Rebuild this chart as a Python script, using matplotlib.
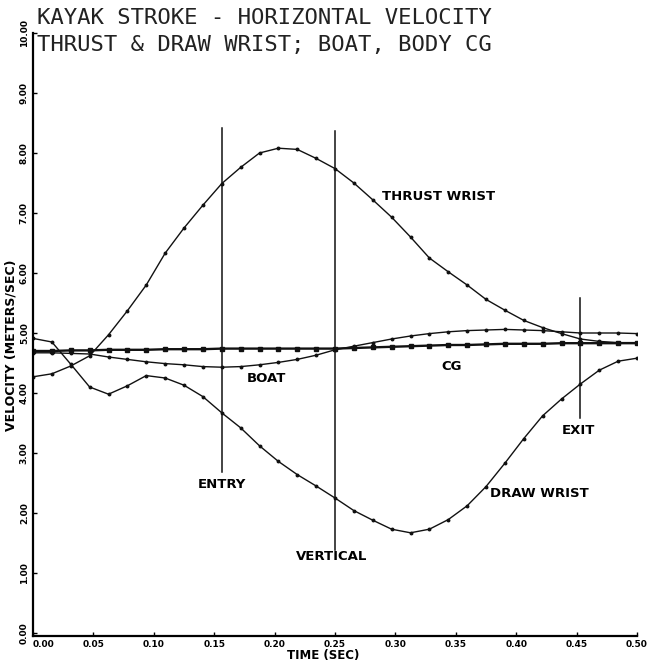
import matplotlib
matplotlib.use("Agg")
import matplotlib.pyplot as plt
import numpy as np

# tiempo: cuadros de pelicula a 64 por segundo
t = np.arange(33) / 64.0

thrust_wrist = [4.27, 4.32, 4.45, 4.62, 4.97, 5.37, 5.80, 6.33, 6.75, 7.13, 7.49,
                7.76, 8.00, 8.08, 8.06, 7.91, 7.74, 7.50, 7.22, 6.93, 6.60, 6.25,
                6.02, 5.80, 5.56, 5.38, 5.21, 5.09, 4.99, 4.90, 4.86, 4.84, 4.84]

draw_wrist = [4.91, 4.85, 4.48, 4.10, 3.98, 4.12, 4.29, 4.25, 4.13, 3.94, 3.67,
              3.42, 3.12, 2.86, 2.64, 2.45, 2.25, 2.04, 1.88, 1.73, 1.67, 1.73,
              1.89, 2.12, 2.44, 2.83, 3.24, 3.62, 3.90, 4.15, 4.38, 4.53, 4.58]

boat = [4.67, 4.67, 4.66, 4.65, 4.60, 4.56, 4.52, 4.49, 4.47, 4.44, 4.43,
        4.44, 4.47, 4.51, 4.56, 4.63, 4.72, 4.78, 4.84, 4.90, 4.95, 4.99,
        5.02, 5.04, 5.05, 5.06, 5.05, 5.04, 5.02, 5.00, 5.00, 5.00, 4.99]

body_cg = [4.70, 4.70, 4.71, 4.71, 4.72, 4.72, 4.72, 4.73, 4.73, 4.73, 4.74,
           4.74, 4.74, 4.74, 4.74, 4.74, 4.74, 4.75, 4.76, 4.77, 4.78, 4.79,
           4.80, 4.80, 4.81, 4.82, 4.82, 4.82, 4.83, 4.83, 4.83, 4.83, 4.83]

# lineas verticales de las fases (entry, vertical, exit)
fases_t = [0.1563, 0.25, 0.4531]
fases_bajo = [2.69, 1.38, 3.58]
fases_alto = [8.42, 8.36, 5.58]

xticks = [0.0, 0.05, 0.10, 0.15, 0.20, 0.25, 0.30, 0.35, 0.40, 0.45, 0.50]
yticks = [0, 1, 2, 3, 4, 5, 6, 7, 8, 9, 10]

fig = plt.figure(figsize=(6.52, 6.62), dpi=100)
ax = fig.add_axes([33/652, 1 - 636/662, 604/652, 603/662])

ax.plot(t, thrust_wrist, color="#111111", lw=1.0, marker="o", ms=1.8)
ax.plot(t, draw_wrist, color="#111111", lw=1.0, marker="o", ms=1.8)
ax.plot(t, boat, color="#111111", lw=1.0, marker="o", ms=1.8)
ax.plot(t, body_cg, color="#111111", lw=1.7, marker="s", ms=2.4)

for x, y0, y1 in zip(fases_t, fases_bajo, fases_alto):
    ax.plot([x, x], [y0, y1], color="#111111", lw=1.1)

ax.set_xlim(0, 0.5)
ax.set_ylim(-0.05, 10)
ax.spines["top"].set_visible(False)
ax.spines["right"].set_visible(False)
ax.spines["left"].set_linewidth(1.6)
ax.spines["bottom"].set_linewidth(1.6)

ax.set_xticks(xticks)
ax.set_xticklabels(["%.2f" % v for v in xticks], fontsize=6.5, fontweight="bold")
ax.get_xticklabels()[0].set_ha("left")
ax.set_yticks(yticks)
ax.set_yticklabels(["%.2f" % v for v in yticks], fontsize=6.5, fontweight="bold",
                   rotation=90, va="center")
ax.tick_params(direction="in", length=3, width=1, pad=3)

fig.text(323/652, 1 - 655/662, "TIME (SEC)", fontsize=8.5, fontweight="bold",
         ha="center", va="center")
ax.set_ylabel("VELOCITY (METERS/SEC)", fontsize=9, fontweight="bold")
ax.yaxis.set_label_coords(-0.025, (636 - 345) / 603)

titulo = dict(family="DejaVu Sans Mono", fontsize=16, color="#222222")
fig.text(37/652, 1 - 18/662, "KAYAK STROKE - HORIZONTAL VELOCITY", va="center", **titulo)
fig.text(37/652, 1 - 45/662, "THRUST & DRAW WRIST; BOAT, BODY CG", va="center", **titulo)

etq = dict(fontsize=9.5, fontweight="bold", ha="left", va="center")
ax.text(0.289, 7.28, "THRUST WRIST", **etq)
ax.text(0.177, 4.25, "BOAT", **etq)
ax.text(0.338, 4.45, "CG", **etq)
ax.text(0.136, 2.47, "ENTRY", **etq)
ax.text(0.218, 1.27, "VERTICAL", **etq)
ax.text(0.438, 3.38, "EXIT", **etq)
ax.text(0.378, 2.33, "DRAW WRIST", **etq)

fig.savefig("out.png", dpi=100)
